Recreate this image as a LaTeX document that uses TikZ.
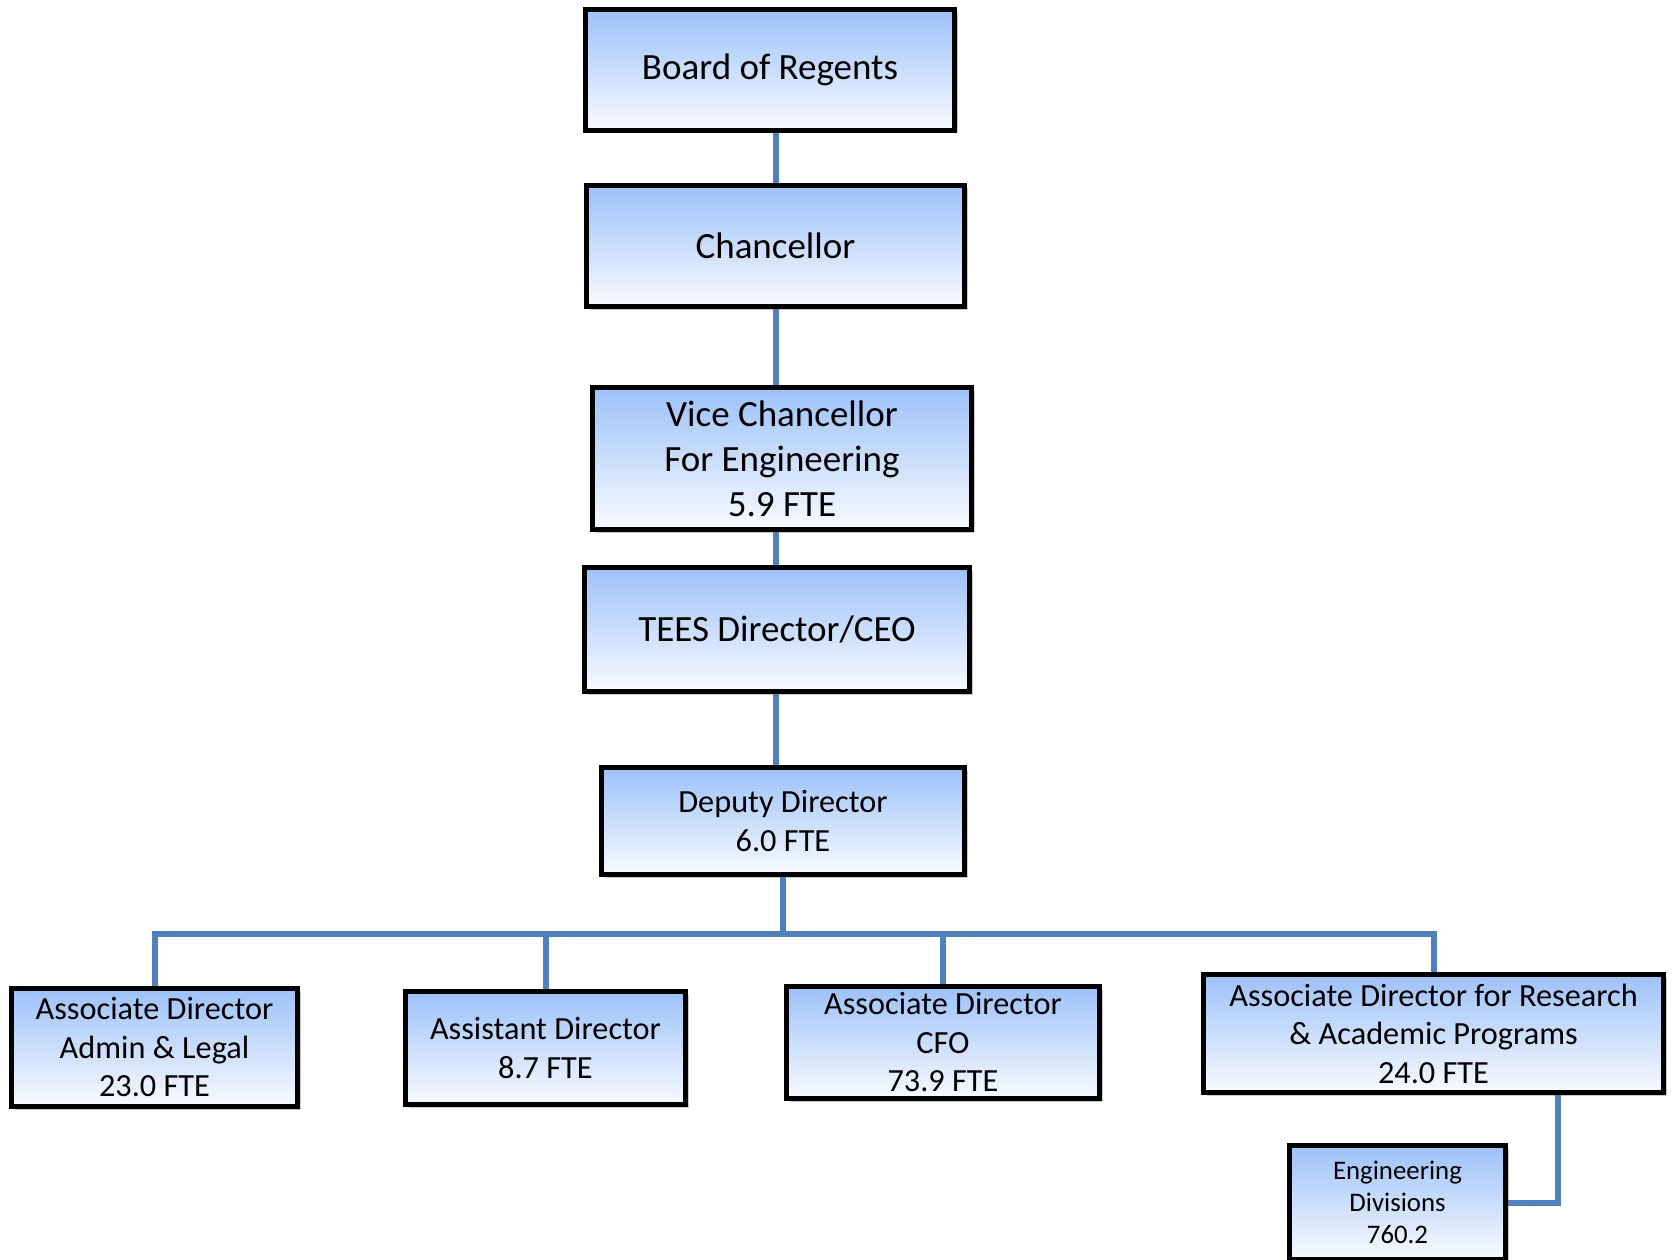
\documentclass[tikz,border=0pt]{standalone}
\usepackage{fontspec}
\setmainfont{Carlito}
\usetikzlibrary{shadows,calc}
\pgfdeclarelayer{bg}
\pgfsetlayers{bg,main}
\definecolor{boxtop}{RGB}{156,193,250}
\definecolor{boxbot}{RGB}{249,251,255}
\definecolor{conn}{RGB}{79,129,189}
\tikzset{
  orgbox/.style={rectangle, draw=black, line width=5.5pt, top color=boxtop, bottom color=boxbot,
    align=center, inner sep=0pt, text=black,
    drop shadow={shadow xshift=3pt, shadow yshift=-3pt, opacity=0.35, fill=black!60}},
  bigtxt/.style={font=\fontsize{37}{45}\selectfont},
  midtxt/.style={font=\fontsize{32.3}{38.5}\selectfont},
  smalltxt/.style={font=\fontsize{26.8}{32}\selectfont},
  link/.style={draw=conn, line width=6pt},
  linkshadow/.style={draw=black, opacity=0.18, line width=6pt, shift={(2.5pt,-2.5pt)}}
}
\begin{document}
\begin{tikzpicture}[x=1pt,y=-1pt]
\useasboundingbox (0,0) rectangle (1673,1260);
\node[orgbox,bigtxt,minimum width=369pt,minimum height=121pt] (board) at (770,70) {Board of Regents};
\node[orgbox,bigtxt,minimum width=378pt,minimum height=121pt] (chanc) at (775.5,246) {Chancellor};
\node[orgbox,bigtxt,minimum width=379pt,minimum height=142pt] (vc) at (782,458.5) {Vice Chancellor\\For Engineering\\5.9 FTE};
\node[orgbox,bigtxt,minimum width=385pt,minimum height=124pt] (tees) at (777,629.5) {TEES Director/CEO};
\node[orgbox,midtxt,minimum width=363pt,minimum height=107pt] (dep) at (783,821) {Deputy Director\\6.0 FTE};
\node[orgbox,midtxt,minimum width=286pt,minimum height=118pt] (admin) at (154.5,1047.5) {Associate Director\\Admin \& Legal\\23.0 FTE};
\node[orgbox,midtxt,minimum width=280pt,minimum height=113pt] (asst) at (545.5,1048) {Assistant Director\\8.7 FTE};
\node[orgbox,midtxt,minimum width=313pt,minimum height=112pt] (cfo) at (943,1042.5) {Associate Director\\CFO\\73.9 FTE};
\node[orgbox,midtxt,minimum width=460pt,minimum height=118pt] (res) at (1433.5,1033.5) {Associate Director for Research\\\& Academic Programs\\24.0 FTE};
\node[orgbox,smalltxt,minimum width=216pt,minimum height=114pt] (eng) at (1397.5,1202.5) {Engineering\\Divisions\\760.2};
\coordinate (spine) at (776,0);
\coordinate (bus) at (0,934);
\coordinate (rj) at (1558,0);
\begin{pgfonlayer}{bg}
\fill[white] (0,0) rectangle (1673,1260);
\foreach \s in {linkshadow,link}{
\draw[\s] (board.south -| spine) -- (chanc.north -| spine);
\draw[\s] (chanc.south -| spine) -- (vc.north -| spine);
\draw[\s] (vc.south -| spine) -- (tees.north -| spine);
\draw[\s] (tees.south -| spine) -- (dep.north -| spine);
\draw[\s] (dep.south) -- (dep.south |- bus);
\draw[\s] (admin.north) |- (res.north |- bus) -- (res.north);
\draw[\s] (asst.north) -- (asst.north |- bus);
\draw[\s] (cfo.north) -- (cfo.north |- bus);
\draw[\s] (res.south -| rj) |- (eng.east);
}
\end{pgfonlayer}
\end{tikzpicture}
\end{document}
